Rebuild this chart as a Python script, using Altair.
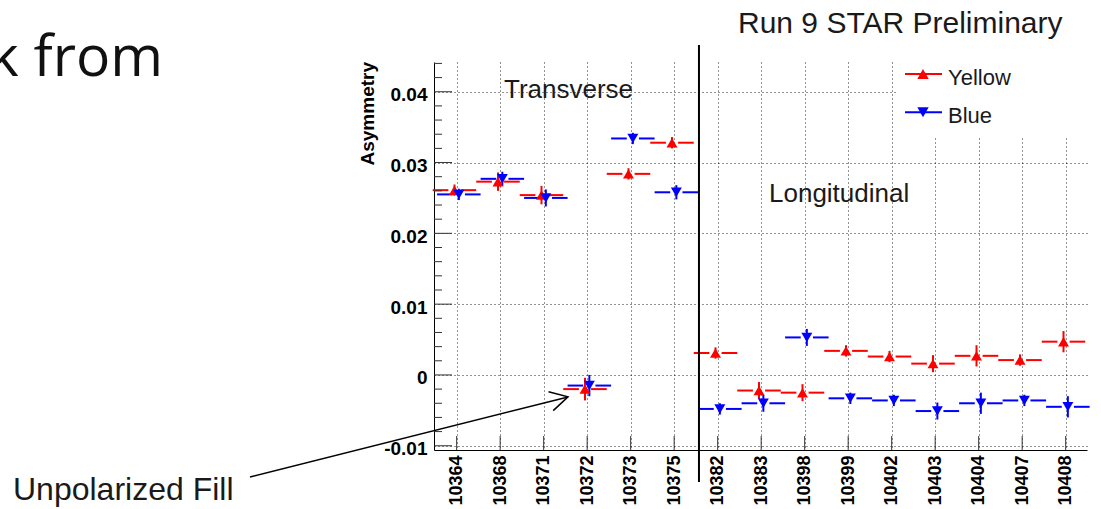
import altair as alt
import numpy as np
import pandas as pd

# Fill numbers (x axis categories)
runs = ["10364", "10368", "10371", "10372", "10373", "10375",
        "10382", "10383", "10398", "10399", "10402", "10403", "10404", "10407", "10408"]

# Asymmetry per fill and its uncertainty
yellow = [0.0261, 0.0273, 0.0254, -0.0020, 0.0284, 0.0328,
          0.0031, -0.0022, -0.0025, 0.0034, 0.0026, 0.0016, 0.0027, 0.0021, 0.0047]
yellow_err = [0.0008, 0.0013, 0.0013, 0.0016, 0.0008, 0.0008,
              0.0008, 0.0012, 0.0012, 0.0008, 0.0008, 0.0012, 0.0015, 0.0008, 0.0015]
blue = [0.0255, 0.0277, 0.0250, -0.0015, 0.0334, 0.0258,
        -0.0048, -0.0040, 0.0053, -0.0033, -0.0036, -0.0051, -0.0040, -0.0036, -0.0045]
blue_err = [0.0008, 0.0010, 0.0012, 0.0015, 0.0008, 0.0010,
            0.0008, 0.0012, 0.0012, 0.0008, 0.0008, 0.0012, 0.0015, 0.0008, 0.0015]

series_names = ["Yellow", "Blue"]
series_colors = ["#ff0000", "#0000ff"]
series_shapes = ["triangle-up", "triangle-down"]

y_major = [-0.01, 0.0, 0.01, 0.02, 0.03, 0.04]
y_minor = [round(v, 3) for v in np.arange(-0.010, 0.0441, 0.002)]

# Where the transverse fills end and the longitudinal ones start
split_at = 5.57
# Arrow tip next to the unpolarized fill
arrow_tip = (2.56, -0.0031)

# ---- layout (pixels) ----
W, H = 653, 388
PAD = {"left": 434, "top": 62, "right": 14, "bottom": 59}
FONT = "Liberation Sans"

series_offset = {"Yellow": -0.05, "Blue": 0.05}
half_bin = 0.5
marker_gap = 0.14

rows = []
for name, vals, errs in (("Yellow", yellow, yellow_err), ("Blue", blue, blue_err)):
    for i, (v, e) in enumerate(zip(vals, errs)):
        xc = i + series_offset[name]
        rows.append(dict(idx=i, run=runs[i], series=name, value=v, err=e,
                         xc=xc, lo=v - e, hi=v + e,
                         l1=xc - half_bin, r1=xc - marker_gap,
                         l2=xc + marker_gap, r2=xc + half_bin))
df = pd.DataFrame(rows)

xscale = alt.Scale(domain=[-0.521, 14.49], nice=False, zero=False)
yscale = alt.Scale(domain=[-0.0106, 0.0442], nice=False, zero=False)
color = alt.Color("series:N", scale=alt.Scale(domain=series_names, range=series_colors), legend=None)
shape = alt.Shape("series:N", scale=alt.Scale(domain=series_names, range=series_shapes), legend=None)

run_list = "[" + ",".join("'%s'" % r for r in runs) + "]"
xaxis = alt.Axis(values=list(range(len(runs))), labelExpr=run_list + "[datum.value]",
                 labelAngle=270, labelFont=FONT, labelFontSize=18, labelFontWeight="bold",
                 labelColor="#000", labelPadding=5, ticks=False, tickSize=0,
                 grid=True, gridDash=[1, 3], gridColor="#000", gridOpacity=0.85,
                 domainColor="#000", domainWidth=1, title=None)
yaxis = alt.Axis(values=y_major,
                 labelExpr="datum.value == 0 ? '0' : (datum.value < 0 ? '-' + format(-datum.value, '.2f') : format(datum.value, '.2f'))",
                 labelFont=FONT, labelFontSize=19, labelFontWeight="bold", labelColor="#000",
                 labelPadding=7, labelOffset=3, ticks=False, tickSize=0,
                 grid=True, gridDash=[1, 3], gridColor="#000", gridOpacity=0.85,
                 domainColor="#000", domainWidth=1, title=None)


def X(field):
    return alt.X(field, scale=xscale, axis=xaxis)


def Y(field):
    return alt.Y(field, scale=yscale, axis=yaxis)


base = alt.Chart(df)

# horizontal bin bars, split around the marker
bar_left = base.mark_rule(strokeWidth=2).encode(
    x=X("l1:Q"), x2="r1:Q", y=Y("value:Q"), color=color)
bar_right = base.mark_rule(strokeWidth=2).encode(
    x=X("l2:Q"), x2="r2:Q", y=Y("value:Q"), color=color)
# vertical error bars
err_bars = base.mark_rule(strokeWidth=2).encode(
    x=X("xc:Q"), y=Y("lo:Q"), y2="hi:Q", color=color)
markers = base.mark_point(filled=True, size=120, opacity=1, strokeWidth=0).encode(
    x=X("xc:Q"), y=Y("value:Q"), color=color, shape=shape)

# inward ticks on the axes
ticks_df = pd.DataFrame({"v": y_minor, "major": [abs(v * 100 - round(v * 100)) < 1e-6 for v in y_minor]})
y_ticks_major = alt.Chart(ticks_df).transform_filter("datum.major").mark_rule(
    color="#333", strokeWidth=1).encode(y=Y("v:Q"), x=alt.value(0), x2=alt.value(18))
y_ticks_minor = alt.Chart(ticks_df).transform_filter("!datum.major").mark_rule(
    color="#333", strokeWidth=1).encode(y=Y("v:Q"), x=alt.value(0), x2=alt.value(8))
x_ticks = alt.Chart(pd.DataFrame({"idx": list(range(len(runs)))})).mark_rule(
    color="#333", strokeWidth=1).encode(x=X("idx:Q"), y=alt.value(H), y2=alt.value(H - 14))

one = alt.Data(values=[{}])

separator = alt.Chart(one).mark_rule(color="#000", strokeWidth=2).encode(
    x=alt.datum(split_at, scale=xscale, axis=xaxis), y=alt.value(-17), y2=alt.value(420))


def label(text, x, y, size, weight="normal", align="left", angle=0, font=FONT, color="#1a1a1a"):
    return alt.Chart(one).mark_text(
        text=text, align=align, baseline="alphabetic", fontSize=size, fontWeight=weight,
        font=font, angle=angle, color=color).encode(x=alt.value(x), y=alt.value(y))


texts = [
    label("Run 9 STAR Preliminary", 304, -29, 30),
    label("Transverse", 70, 35.5, 26),
    label("Longitudinal", 335, 140.3, 26),
    label("Asymmetry", -60, 0, 19, weight="bold", align="right", angle=270, color="#000"),
    label("k from", -271, 14, 57, align="right", font="Open Sans", color="#111"),
    label("Unpolarized Fill", -421, 438, 32),
]

# legend panel
legend_box = alt.Chart(one).mark_rect(color="white").encode(
    x=alt.value(463), x2=alt.value(654), y=alt.value(0), y2=alt.value(74))
legend_layers = [legend_box]
for k, (name, col, shp) in enumerate(zip(series_names, series_colors, series_shapes)):
    ly = 12 + k * 38.3
    legend_layers.append(alt.Chart(one).mark_rule(color=col, strokeWidth=2).encode(
        x=alt.value(471), x2=alt.value(508), y=alt.value(ly)))
    legend_layers.append(alt.Chart(one).mark_point(
        filled=True, color=col, shape=shp, size=130, opacity=1, strokeWidth=0).encode(
        x=alt.value(489), y=alt.value(ly)))
    legend_layers.append(label(name, 514, ly + 11, 22))

# arrow pointing at the unpolarized fill
arrow_shaft = alt.Chart(one).mark_rule(color="#000", strokeWidth=1.5).encode(
    x=alt.datum(arrow_tip[0], scale=xscale, axis=xaxis),
    y=alt.datum(arrow_tip[1], scale=yscale, axis=yaxis),
    x2=alt.value(-184), y2=alt.value(415))
arrow_head = alt.Chart(one).mark_point(
    shape="M-1,-0.55L0,0L-1,0.55", filled=False, size=1250, strokeWidth=1.5,
    color="#000", opacity=1, angle=346).encode(
    x=alt.datum(arrow_tip[0], scale=xscale, axis=xaxis),
    y=alt.datum(arrow_tip[1], scale=yscale, axis=yaxis))

chart = alt.layer(
    bar_left, bar_right, err_bars, markers,
    y_ticks_major, y_ticks_minor, x_ticks,
    *legend_layers, separator, *texts, arrow_shaft, arrow_head,
).properties(
    width=W, height=H, padding=PAD,
    autosize=alt.AutoSizeParams(type="none"),
    background="white",
).configure_view(stroke=None)

chart.save("out.html", embed_options={"renderer": "svg", "actions": False})
